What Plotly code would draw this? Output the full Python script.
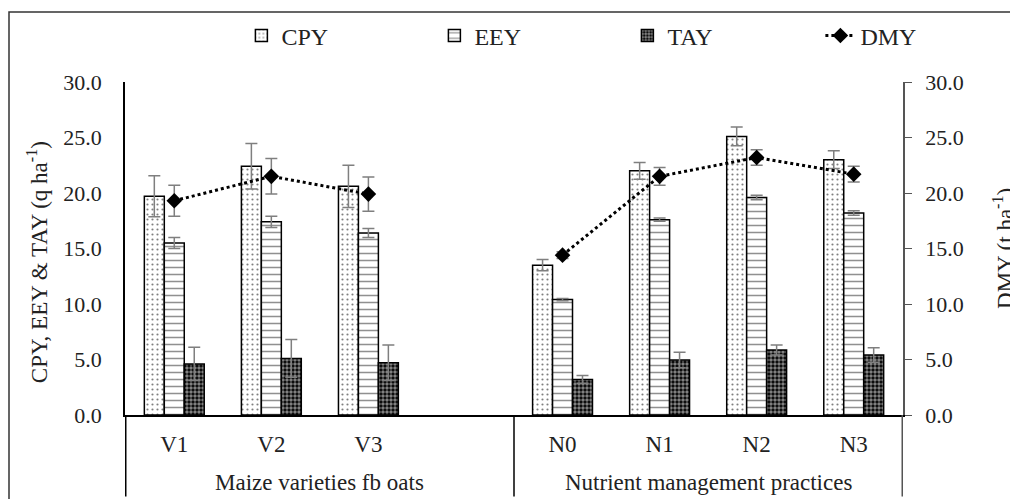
import plotly.graph_objects as go

groups = ["Maize varieties fb oats"] * 4 + ["Nutrient management practices"] * 4
treatments = ["V1", "V2", "V3", " ", "N0", "N1", "N2", "N3"]

cpy = [19.7, 22.4, 20.6, None, 13.5, 22.0, 25.1, 23.0]
cpy_err = [1.85, 2.05, 1.9, None, 0.5, 0.75, 0.85, 0.8]
eey = [15.5, 17.4, 16.4, None, 10.4, 17.6, 19.6, 18.2]
eey_err = [0.5, 0.5, 0.4, None, 0.1, 0.15, 0.2, 0.2]
tay = [4.6, 5.1, 4.7, None, 3.2, 4.95, 5.85, 5.4]
tay_err = [1.5, 1.7, 1.6, None, 0.35, 0.7, 0.45, 0.65]
dmy = [19.3, 21.5, 19.9, None, 14.4, 21.5, 23.2, 21.7]
dmy_err = [1.4, 1.6, 1.55, None, 0.3, 0.8, 0.7, 0.7]

y_ticks = [0, 5, 10, 15, 20, 25, 30]

FONT = "Liberation Serif, Times New Roman, serif"
ERR = dict(type="data", visible=True, color="#7f7f7f", thickness=1.5, width=6)

fig = go.Figure()
fig.add_trace(go.Bar(
    x=treatments, y=cpy, name="CPY",
    error_y=dict(array=cpy_err, **ERR),
    marker=dict(color="white", line=dict(color="black", width=1.5),
                pattern=dict(shape=".", fgcolor="black", bgcolor="white", size=5, solidity=0.15)),
))
fig.add_trace(go.Bar(
    x=treatments, y=eey, name="EEY",
    error_y=dict(array=eey_err, **ERR),
    marker=dict(color="white", line=dict(color="black", width=1.5),
                pattern=dict(shape="-", fgcolor="#222", bgcolor="white", size=7, solidity=0.22)),
))
fig.add_trace(go.Bar(
    x=treatments, y=tay, name="TAY",
    error_y=dict(array=tay_err, **ERR),
    marker=dict(color="black", line=dict(color="black", width=1.5),
                pattern=dict(shape=".", fgcolor="white", bgcolor="black", size=4, solidity=0.6)),
))
fig.add_trace(go.Scatter(
    x=treatments, y=dmy, name="DMY", yaxis="y2", mode="lines+markers",
    connectgaps=False,
    line=dict(color="black", width=3, dash="dot"),
    marker=dict(symbol="diamond", size=12, color="black"),
    error_y=dict(array=dmy_err, **ERR),
))

# group labels and dividers derived from the group array
group_names = []
for g in groups:
    if g not in group_names:
        group_names.append(g)
annotations = []
shapes = []
for g in group_names:
    idx = [i for i, gg in enumerate(groups) if gg == g]
    annotations.append(dict(text=g, xref="x", yref="paper", x=(idx[0] + idx[-1]) / 2,
                            y=-0.204, xanchor="center", yanchor="middle", showarrow=False,
                            font=dict(size=23, family=FONT)))
    shapes.append(dict(type="line", xref="x", yref="paper", x0=idx[0] - 0.5, x1=idx[0] - 0.5,
                       y0=0, y1=-0.245, line=dict(color="black", width=1.5)))
shapes.append(dict(type="line", xref="x", yref="paper", x0=len(groups) - 0.5, x1=len(groups) - 0.5,
                   y0=0, y1=-0.245, line=dict(color="#555", width=1.5)))
shapes.append(dict(type="rect", xref="paper", yref="paper", x0=-0.1491, y0=-0.30,
                   x1=1.2, y1=1.2102, line=dict(color="#333", width=1.5), layer="below"))

annotations += [
    dict(text="CPY, EEY & TAY (q ha<sup>-1</sup>)", textangle=-90, xref="paper",
         yref="paper", x=-0.1131, y=0.459, xanchor="center", yanchor="middle",
         showarrow=False, font=dict(size=23, family=FONT)),
    dict(text="DMY (t ha<sup>-1</sup>)", textangle=-90, xref="paper",
         yref="paper", x=1.1285, y=0.5015, xanchor="center", yanchor="middle",
         showarrow=False, font=dict(size=23, family=FONT)),
]

fig.update_layout(
    width=1010, height=499,
    margin=dict(l=125, r=107, t=82, b=84, autoexpand=False),
    paper_bgcolor="white", plot_bgcolor="white",
    font=dict(family=FONT, size=22, color="#222"),
    barmode="group", bargap=0.383, bargroupgap=0,
    showlegend=True,
    legend=dict(orientation="h", xref="container", yref="container", x=0.239, xanchor="left",
                y=0.928, yanchor="middle",
                entrywidth=148, entrywidthmode="pixels", font=dict(size=24, family=FONT),
                bgcolor="rgba(0,0,0,0)", traceorder="normal"),
    xaxis=dict(type="category", categoryorder="array", categoryarray=treatments,
               showline=True, linecolor="black", linewidth=1.5,
               ticks="", showgrid=False, ticklabelstandoff=8,
               tickfont=dict(size=23, family=FONT)),
    yaxis=dict(range=[0, 30], tickvals=y_ticks, tickformat=".1f", showline=True,
               linecolor="black", linewidth=1.5, ticks="", showgrid=False, zeroline=False,
               ticklabelstandoff=17, tickfont=dict(size=22, family=FONT)),
    yaxis2=dict(range=[0, 30], tickvals=y_ticks, tickformat=".1f", overlaying="y",
                side="right", showline=True, linecolor="#555", linewidth=1.5,
                ticks="outside", ticklen=7, tickcolor="#555", showgrid=False,
                zeroline=False, ticklabelstandoff=9, tickfont=dict(size=22, family=FONT)),
    annotations=annotations,
    shapes=shapes,
)

fig.write_html("out.html", config={"displayModeBar": False},
               post_script="document.body.style.margin='0';document.body.style.overflow='hidden';")
